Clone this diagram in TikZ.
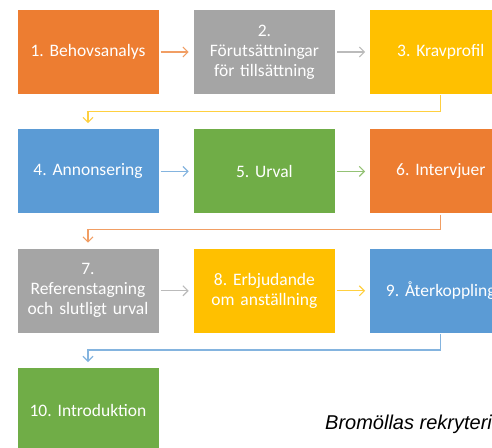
\documentclass[tikz,border=0pt]{standalone}
\usepackage{fontspec}
\setmainfont{Carlito}
\newfontfamily\capfont{Liberation Sans}
\usetikzlibrary{positioning,arrows.meta}

\definecolor{boxorange}{HTML}{ED7D31}
\definecolor{boxgray}{HTML}{A5A5A5}
\definecolor{boxgold}{HTML}{FFC000}
\definecolor{boxblue}{HTML}{5B9BD5}
\definecolor{boxgreen}{HTML}{70AD47}

\begin{document}
\frenchspacing
\begin{tikzpicture}[>={Straight Barb[length=5pt,width=10pt]},
  stepbox/.style={minimum width=141pt, minimum height=84pt, inner sep=0pt,
    text width=136pt, align=center, text=white,
    font=\fontsize{17.5}{20}\selectfont},
  link/.style={->, line width=1.1pt, shorten <=2pt, shorten >=5pt},
  turn/.style={->, line width=1.1pt, shorten <=1pt, shorten >=6pt}]
  \clip (0,0) rectangle (492pt,-447pt);
  % Row 1
  \node[stepbox, fill=boxorange] (b1) at (88pt,-52pt) {1. Behovsanalys};
  \node[stepbox, fill=boxgray, right=35pt of b1] (b2) {2.\\Förutsättningar\\för tillsättning};
  \node[stepbox, fill=boxgold, right=35pt of b2] (b3) {3. Kravprofil};
  % Row 2
  \node[stepbox, fill=boxblue, below=35pt of b1] (b4) {4. Annonsering};
  \node[stepbox, fill=boxgreen, right=35pt of b4] (b5) {5. Urval};
  \node[stepbox, fill=boxorange, right=35pt of b5] (b6) {6. Intervjuer};
  % Row 3
  \node[stepbox, fill=boxgray, below=35pt of b4] (b7) {7.\\Referenstagning\\och slutligt urval};
  \node[stepbox, fill=boxgold, right=35pt of b7] (b8) {8. Erbjudande\\om anställning};
  \node[stepbox, fill=boxblue, right=35pt of b8] (b9) {9. Återkoppling};
  % Row 4
  \node[stepbox, fill=boxgreen, below=35pt of b7] (b10) {10. Introduktion};
  % Caption
  \node[anchor=base west, inner sep=0pt, font=\capfont\itshape\fontsize{20}{22}\selectfont]
    (cap) at (325pt,-429pt) {Bromöllas rekryteri};
  % Arrows within rows
  \foreach \a/\b/\c in {b1/b2/boxorange, b2/b3/boxgray, b4/b5/boxblue,
                        b5/b6/boxgreen, b7/b8/boxgray, b8/b9/boxgold} {
    \draw[link, \c!75!white] (\a.east) -- (\b.west);
  }
  % Arrows between rows
  \draw[turn, boxgold!75!white] (b3.south) -- ++(0,-17pt) -| (b4.north);
  \draw[turn, boxorange!75!white] (b6.south) -- ++(0,-16pt) -| (b7.north);
  \draw[turn, boxblue!75!white] (b9.south) -- ++(0,-17pt) -| (b10.north);
\end{tikzpicture}
\end{document}
